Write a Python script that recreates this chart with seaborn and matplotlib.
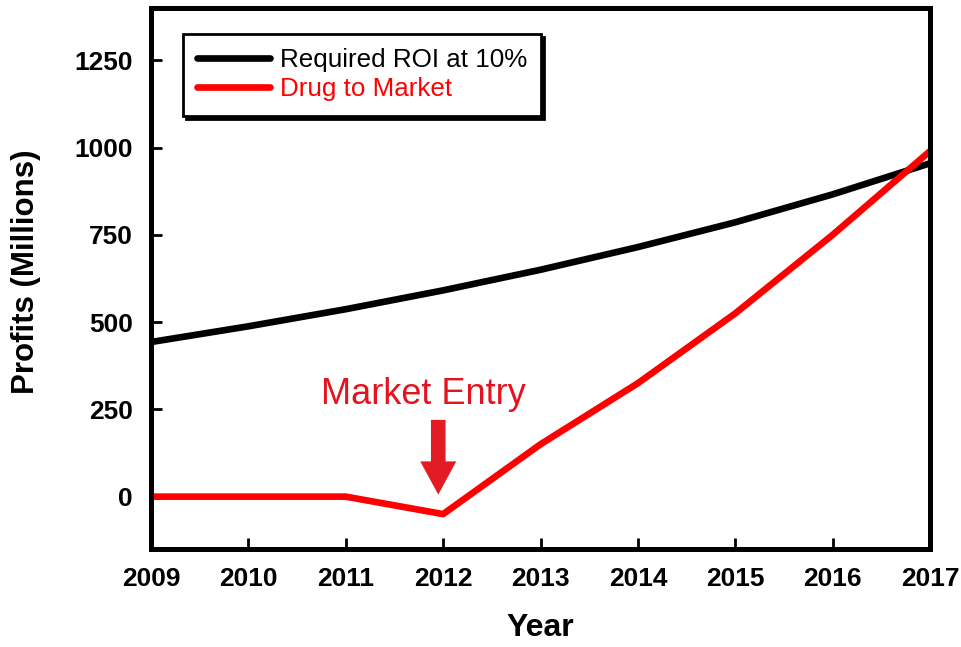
import matplotlib
matplotlib.use("Agg")
import matplotlib.pyplot as plt
import seaborn as sns
import pandas as pd
from matplotlib.patches import FancyArrow

years = [2009, 2010, 2011, 2012, 2013, 2014, 2015, 2016, 2017]
roi_required = [443, 488, 537, 591, 650, 715, 786, 866, 955]
drug_to_market = [0, 0, 0, -50, 150, 325, 525, 750, 990]
series_names = ["Required ROI at 10%", "Drug to Market"]
y_ticks = [0, 250, 500, 750, 1000, 1250]

df = pd.DataFrame({
    "Year": years * 2,
    "Profits": roi_required + drug_to_market,
    "Series": [series_names[0]] * len(years) + [series_names[1]] * len(years),
})

sns.set_style("white")
plt.rcParams["font.family"] = ["Liberation Sans", "DejaVu Sans"]
plt.rcParams["text.color"] = "black"
plt.rcParams["axes.labelcolor"] = "black"
plt.rcParams["xtick.color"] = "black"
plt.rcParams["ytick.color"] = "black"

fig = plt.figure(figsize=(9.61, 6.47), dpi=100)
ax = fig.add_axes([151 / 961, 1 - 549 / 647, (930 - 151) / 961, (549 - 8) / 647])

palette = {series_names[0]: "black", series_names[1]: "#ff0000"}
sns.lineplot(data=df, x="Year", y="Profits", hue="Series", palette=palette,
             linewidth=4.8, ax=ax, legend=True)

ax.set_xlim(2009, 2017)
ax.set_ylim(-150, 1400)
ax.set_xticks(years)
ax.set_yticks(y_ticks)
ax.set_xticklabels([str(y) for y in years], fontweight="bold", fontsize=19)
ax.set_yticklabels([str(v) for v in y_ticks], fontweight="bold", fontsize=19)
ax.tick_params(axis="x", direction="in", length=8, width=2, pad=13, colors="black",
               bottom=True, top=False)
ax.tick_params(axis="y", direction="in", length=8, width=2, pad=13, colors="black",
               left=True, right=False)

for s in ax.spines.values():
    s.set_linewidth(3.6)
    s.set_color("black")

ax.set_xlabel("Year", fontsize=23, fontweight="bold", labelpad=16, color="black")
ax.set_ylabel("Profits (Millions)", fontsize=22.5, fontweight="bold", labelpad=24,
              color="black")
ax.yaxis.label.set_y(0.512)

# Annotation
ax.text(2011.8, 292, "Market Entry", color="#e3141f", fontsize=26,
        ha="center", va="center")
arrow = FancyArrow(2011.95, 220, 0, -214, width=0.15, head_width=0.37,
                   head_length=95, length_includes_head=True,
                   color="#e31b23", linewidth=0)
ax.add_patch(arrow)

handles, labels = ax.get_legend_handles_labels()
leg = ax.legend(handles, labels, loc="upper left", bbox_to_anchor=(0.041, 0.952),
                borderaxespad=0, frameon=True, fancybox=False,
                shadow={"color": "black", "alpha": 1}, fontsize=18.7,
                handlelength=2.8, handletextpad=0.38, borderpad=0.55,
                labelspacing=0.2)
leg.get_frame().set_edgecolor("black")
leg.get_frame().set_linewidth(2)
for txt, col in zip(leg.get_texts(), ["black", "#ff0000"]):
    txt.set_color(col)
for line in leg.get_lines():
    line.set_linewidth(4.8)

fig.savefig("out.png", dpi=100)
